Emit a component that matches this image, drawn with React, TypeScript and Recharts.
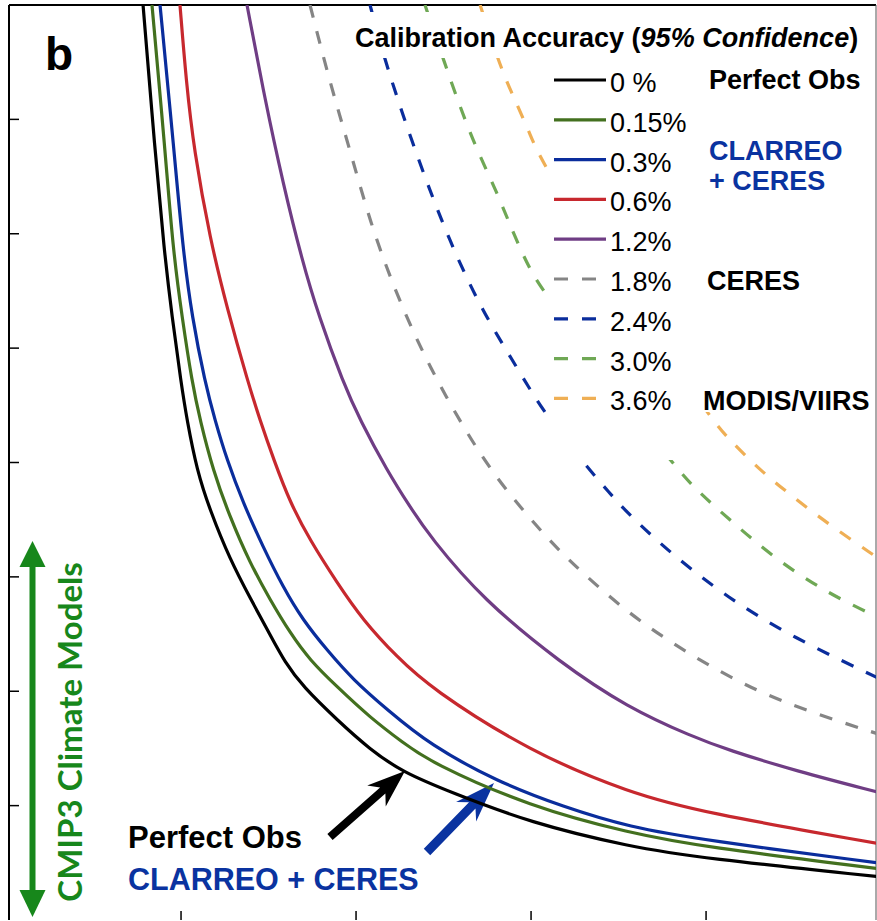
import React from "react";
import { LineChart, Line, XAxis, YAxis, ReferenceLine, Legend, Customized } from "recharts";

type Pt = [number, number];

// [record length (years), uncertainty], one list per calibration accuracy
const acc000: Pt[] = [
  [7.83, 8.0], [8.51, 6.73], [9.03, 5.86], [9.49, 5.27], [10.0, 4.7], [10.34, 4.37], [10.91, 3.93],
  [11.66, 3.58], [12.8, 3.15], [14.0, 2.8], [15.03, 2.51], [15.94, 2.25], [16.97, 2.04], [18.91, 1.75],
  [20.8, 1.49], [22.69, 1.29], [25.37, 1.12], [29.94, 0.85], [35.66, 0.64], [39.83, 0.54], [49.77, 0.38],
];
const acc015: Pt[] = [
  [8.34, 8.0], [9.09, 6.73], [9.54, 5.86], [10.06, 5.27], [10.63, 4.7], [11.09, 4.37], [11.83, 3.93],
  [12.8, 3.52], [13.94, 3.12], [15.09, 2.8], [16.23, 2.51], [17.37, 2.27], [18.91, 2.04], [20.8, 1.77],
  [22.69, 1.55], [24.23, 1.38], [29.94, 0.99], [35.66, 0.76], [39.83, 0.64], [49.77, 0.45],
];
const acc030: Pt[] = [
  [8.8, 8.0], [9.6, 6.73], [10.11, 5.86], [10.63, 5.27], [11.37, 4.7], [11.94, 4.37], [12.63, 4.02],
  [13.54, 3.65], [14.69, 3.26], [15.83, 2.91], [16.97, 2.62], [18.34, 2.36], [19.83, 2.1], [21.77, 1.84],
  [24.23, 1.53], [28.06, 1.21], [31.83, 0.99], [35.66, 0.81], [39.83, 0.7], [49.77, 0.5],
];
const acc060: Pt[] = [
  [9.94, 8.0], [10.29, 7.34], [10.74, 6.73], [11.66, 5.95], [12.63, 5.35], [13.83, 4.7], [14.51, 4.37],
  [15.31, 4.02], [16.23, 3.65], [17.37, 3.32], [18.91, 2.95], [20.4, 2.62], [22.34, 2.3], [24.23, 2.03],
  [29.94, 1.47], [35.66, 1.11], [39.83, 0.94], [49.77, 0.67],
];
const acc120: Pt[] = [
  [13.77, 8.0], [14.8, 7.17], [15.83, 6.44], [16.91, 5.77], [17.89, 5.27], [19.26, 4.7], [20.23, 4.37],
  [21.77, 3.93], [23.09, 3.61], [24.23, 3.35], [27.26, 2.8], [31.66, 2.25], [35.49, 1.86], [39.26, 1.6],
  [41.2, 1.49], [45.2, 1.3], [49.77, 1.12],
];
const acc180: Pt[] = [
  [17.37, 8.0], [18.51, 7.32], [19.66, 6.73], [20.97, 6.01], [22.69, 5.33], [24.23, 4.83], [26.11, 4.31],
  [28.06, 3.85], [30.34, 3.44], [31.83, 3.19], [35.49, 2.68], [39.26, 2.3], [43.09, 1.98], [46.91, 1.77],
  [49.77, 1.63],
];
const acc240: Pt[] = [
  [20.8, 8.0], [21.66, 7.5], [23.49, 6.67], [25.37, 5.92], [27.26, 5.31], [29.2, 4.83], [30.63, 4.46],
  [32.97, 4.0], [34.51, 3.73], [35.49, 3.56], [37.94, 3.21], [41.2, 2.82], [44.97, 2.47], [49.77, 2.12],
];
const acc300: Pt[] = [
  [23.94, 8.0], [25.09, 7.48], [25.94, 7.11], [26.91, 6.73], [28.06, 6.36], [28.97, 6.01], [29.94, 5.68],
  [30.91, 5.45], [38.06, 3.98], [39.66, 3.73], [41.2, 3.52], [43.83, 3.17], [46.91, 2.86], [49.77, 2.65],
];
const acc360: Pt[] = [
  [27.09, 8.0], [28.11, 7.52], [28.8, 7.26], [29.94, 6.88], [30.8, 6.54], [40.06, 4.42], [41.2, 4.22],
  [43.09, 3.93], [44.97, 3.7], [46.91, 3.47], [49.77, 3.17],
];

const accuracyLabels = ["0 %", "0.15%", "0.3%", "0.6%", "1.2%", "1.8%", "2.4%", "3.0%", "3.6%"];
const curves = [acc000, acc015, acc030, acc060, acc120, acc180, acc240, acc300, acc360];

const xTicks = [10, 20, 30, 40];
const yTicks = [1, 2, 3, 4, 5, 6, 7];

const colors = ["#000000", "#43701f", "#0a2d9c", "#c7282e", "#6f3d84", "#858585", "#0a2d9c", "#6fa855", "#efaf55"];
const dashed = [false, false, false, false, false, true, true, true, true];

const FONT = "'Liberation Sans', Arial, Helvetica, sans-serif";
const TEXT_BLUE = "#0a33a0";
const CMIP_GREEN = "#17871b";

const series = curves.map((pts, i) => ({
  name: accuracyLabels[i],
  data: pts.map(([x, y]) => ({ x, y })),
  color: colors[i],
  dashed: dashed[i],
}));

function arrowPoints(x1: number, y1: number, x2: number, y2: number, shaft: number, headLen: number, half: number) {
  const L = Math.hypot(x2 - x1, y2 - y1);
  const ux = (x2 - x1) / L;
  const uy = (y2 - y1) / L;
  const nx = -uy;
  const ny = ux;
  const bx = x2 - ux * headLen;
  const by = y2 - uy * headLen;
  const kx = x2 - ux * headLen * 0.78;
  const ky = y2 - uy * headLen * 0.78;
  const p = [
    [x1 + (nx * shaft) / 2, y1 + (ny * shaft) / 2],
    [kx + (nx * shaft) / 2, ky + (ny * shaft) / 2],
    [bx + nx * half, by + ny * half],
    [x2, y2],
    [bx - nx * half, by - ny * half],
    [kx - (nx * shaft) / 2, ky - (ny * shaft) / 2],
    [x1 - (nx * shaft) / 2, y1 - (ny * shaft) / 2],
  ];
  return p.map((q) => q.join(",")).join(" ");
}

function Annotations() {
  return (
    <g fontFamily={FONT}>
      <text x={45} y={70} fontSize={46} fontWeight="bold" fill="#000">b</text>

      {/* CMIP3 model range */}
      <rect x={29.5} y={562} width={6} height={332} fill={CMIP_GREEN} />
      <polygon points="32.5,541 19.5,567 45.5,567" fill={CMIP_GREEN} />
      <polygon points="32.5,917 19.5,890 45.5,890" fill={CMIP_GREEN} />
      <text
        x={82}
        y={732}
        transform="rotate(-90 82 732)"
        textAnchor="middle"
        fontFamily="Lato, 'Open Sans', sans-serif"
        fontWeight="bold"
        fontSize={33}
        fill={CMIP_GREEN}
      >
        CMIP3 Climate Models
      </text>

      <text x={128} y={848} fontSize={31} fontWeight="bold" fill="#000">Perfect Obs</text>
      <text x={128} y={890} fontSize={30.5} fontWeight="bold" fill={TEXT_BLUE}>CLARREO + CERES</text>
      <polygon points={arrowPoints(330, 837, 405, 771, 8, 38, 14)} fill="#000" />
      <polygon points={arrowPoints(427, 852, 494, 783, 9, 40, 14)} fill={TEXT_BLUE} />
    </g>
  );
}

function LegendBlock() {
  const rowY = (i: number) => 80 + 39.8 * i;
  return (
    <svg width={527} height={450} viewBox="350 12 527 450" style={{ display: "block" }} fontFamily={FONT}>
      <rect x={350} y={12} width={523} height={46} fill="#fff" />
      <rect x={548} y={57} width={152} height={403} fill="#fff" />
      <rect x={700} y={57} width={173} height={355} fill="#fff" />
      <text x={355} y={47} fontSize={27} fontWeight="bold" fill="#000">
        Calibration Accuracy (<tspan fontStyle="italic">95% Confidence</tspan>)
      </text>
      {series.map((s, i) => (
        <g key={s.name}>
          <line
            x1={554}
            x2={s.dashed ? 596 : 606}
            y1={rowY(i)}
            y2={rowY(i)}
            stroke={s.color}
            strokeWidth={3.2}
            strokeDasharray={s.dashed ? "14 14" : undefined}
          />
          <text x={610} y={rowY(i) + 12} fontSize={27} fill="#000">{s.name}</text>
        </g>
      ))}
      <text x={709} y={89} fontSize={27} fontWeight="bold" fill="#000">Perfect Obs</text>
      <text x={709} y={160} fontSize={27} fontWeight="bold" fill={TEXT_BLUE}>CLARREO</text>
      <text x={709} y={190} fontSize={27} fontWeight="bold" fill={TEXT_BLUE}>+ CERES</text>
      <text x={707} y={290} fontSize={27} fontWeight="bold" fill="#000">CERES</text>
      <text x={703} y={410} fontSize={27} fontWeight="bold" fill="#000">MODIS/VIIRS</text>
    </svg>
  );
}

const noLabel = () => "";

export default function App() {
  return (
    <div style={{ position: "fixed", left: 0, top: 0, width: 877, height: 921, overflow: "hidden", background: "#fff" }}>
      <LineChart width={877} height={921} margin={{ top: 5, right: 1, bottom: 1, left: 9 }}>
        <XAxis
          type="number"
          dataKey="x"
          domain={[0.17, 49.71]}
          allowDataOverflow
          ticks={xTicks}
          mirror
          tick={{ fill: "transparent" }}
          tickFormatter={noLabel}
          axisLine={false}
          tickLine={{ stroke: "#000", strokeWidth: 1.5 }}
          tickSize={9}
        />
        <YAxis
          type="number"
          dataKey="y"
          domain={[0, 8]}
          allowDataOverflow
          ticks={yTicks}
          mirror
          tick={{ fill: "transparent" }}
          tickFormatter={noLabel}
          axisLine={{ stroke: "#000", strokeWidth: 2 }}
          tickLine={{ stroke: "#000", strokeWidth: 1.5 }}
          tickSize={10}
        />
        <ReferenceLine y={8} stroke="#000" strokeWidth={2} />
        <ReferenceLine x={49.71} stroke="#555" strokeWidth={1} />
        {series.map((s) => (
          <Line
            key={s.name}
            data={s.data}
            dataKey="y"
            name={s.name}
            type="basis"
            stroke={s.color}
            strokeWidth={3.2}
            strokeDasharray={s.dashed ? "13 14" : undefined}
            dot={false}
            activeDot={false}
            isAnimationActive={false}
          />
        ))}
        <Customized component={<Annotations />} />
        <Legend
          layout="vertical"
          align="center"
          verticalAlign="middle"
          wrapperStyle={{ left: 350, top: 12, width: 527, height: 450 }}
          content={() => <LegendBlock />}
        />
      </LineChart>
    </div>
  );
}
